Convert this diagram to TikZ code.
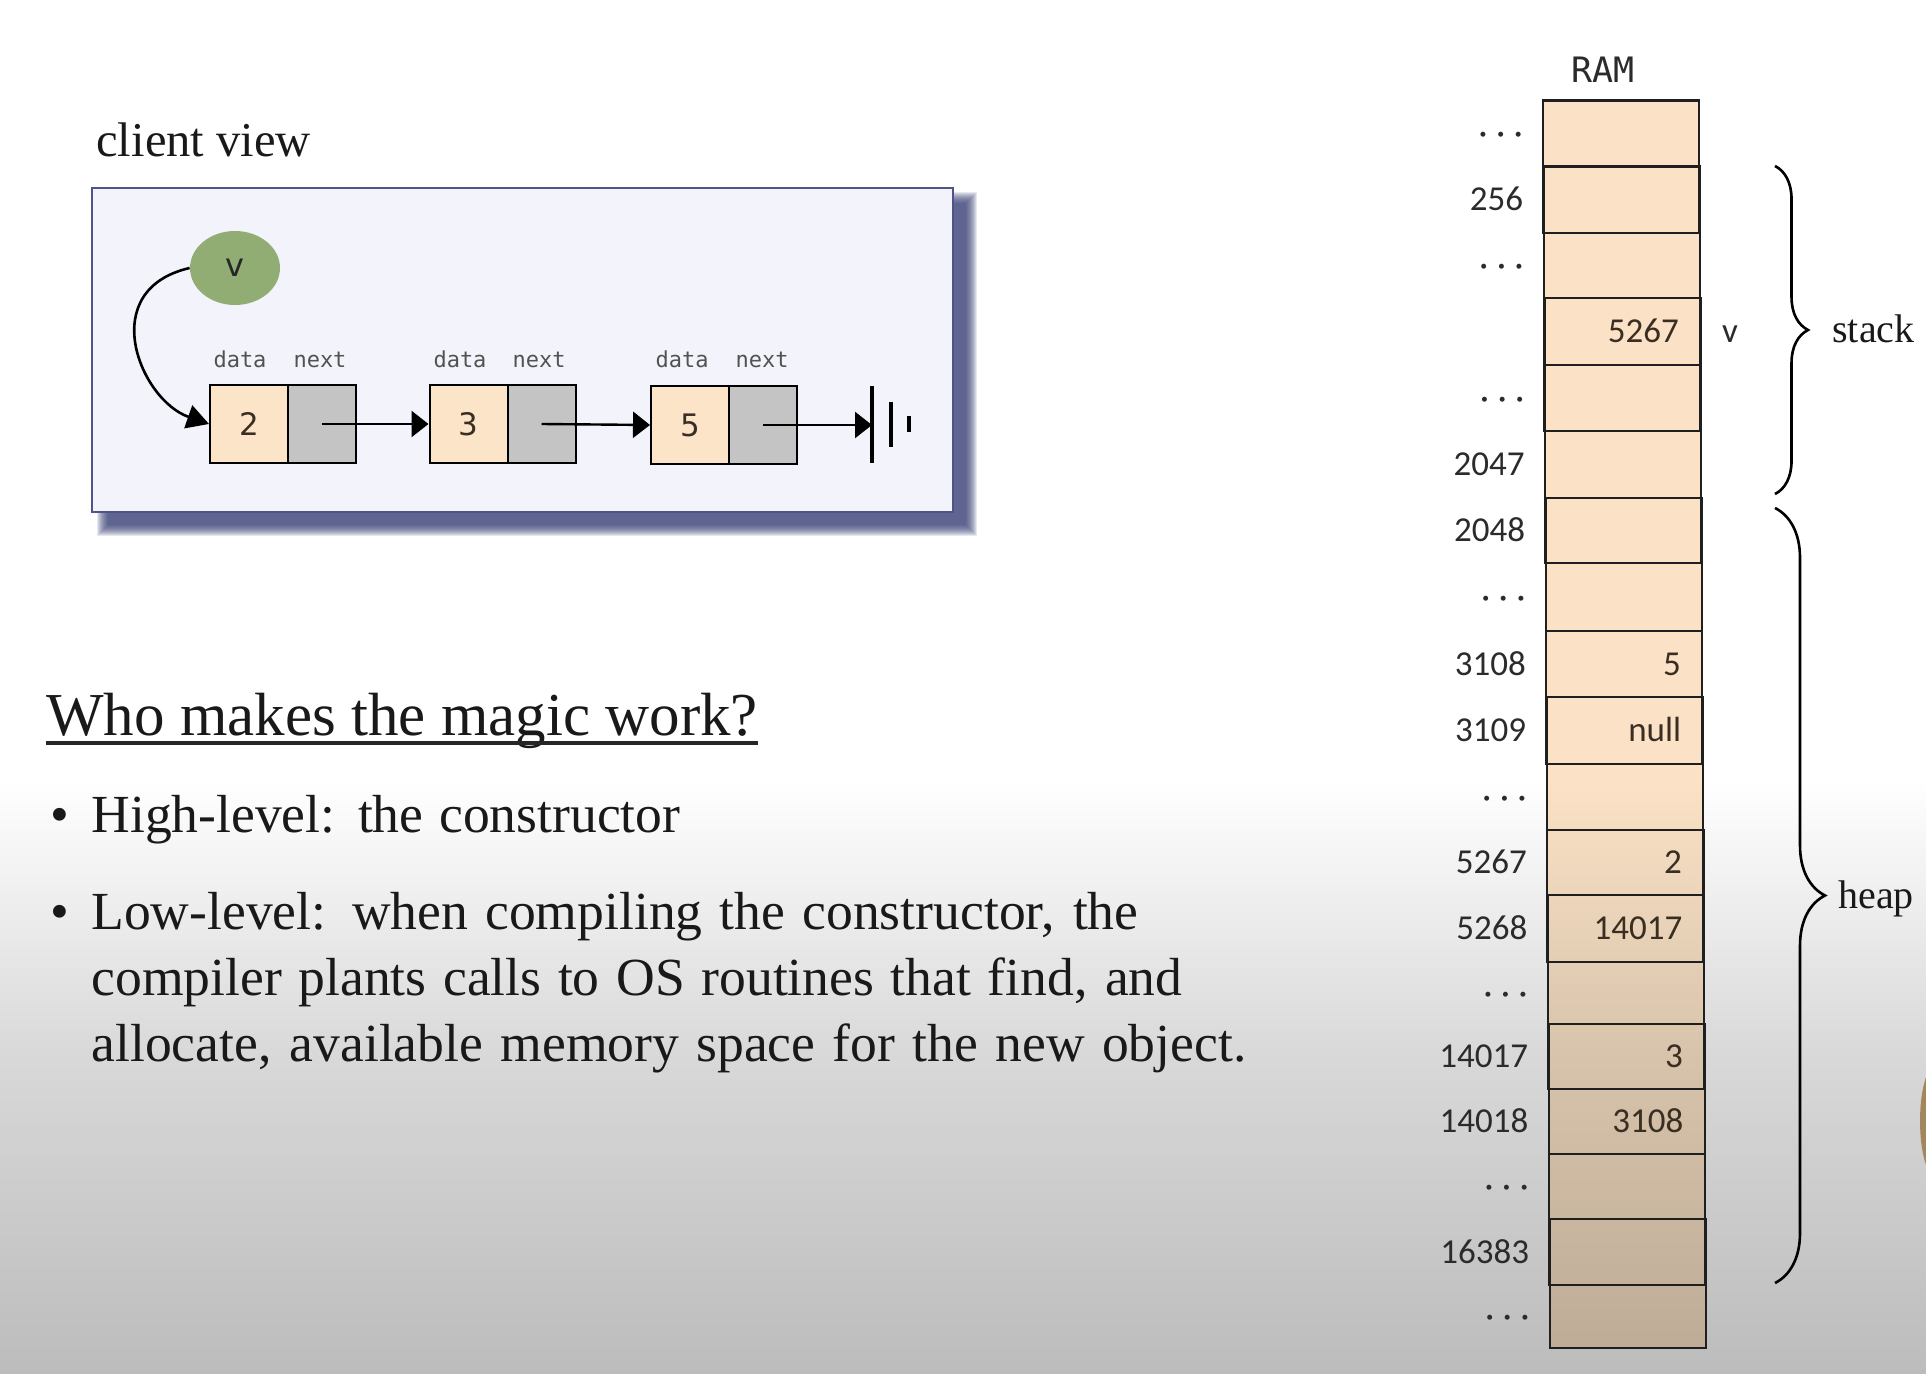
\documentclass[tikz,border=0pt]{standalone}
\usepackage{fontspec}
\setmainfont{Liberation Serif}
\newfontfamily\calib{Carlito}
\newfontfamily\dmono{DejaVu Sans Mono}
\newfontfamily\dsans{DejaVu Sans}
\usetikzlibrary{shapes.geometric,arrows.meta,decorations.pathreplacing,calc}
\definecolor{peach}{HTML}{FCE4C8}
\definecolor{nextgrey}{HTML}{C4C4C4}
\definecolor{panelfill}{HTML}{F3F3FC}
\definecolor{panelline}{HTML}{4E5488}
\definecolor{shadowcol}{HTML}{3A4075}
\definecolor{vgreen}{HTML}{91AD74}
\definecolor{bgmid}{HTML}{D9D9D9}
\definecolor{bgbot}{HTML}{BCBCBC}
\definecolor{rampeach}{HTML}{FBE2C6}
\definecolor{rammid}{HTML}{D8C4AC}
\definecolor{rambot}{HTML}{BFAC97}
\definecolor{inktext}{HTML}{2B2B2B}
\definecolor{valtext}{HTML}{3A2E22}
\definecolor{skin}{HTML}{A2865E}
\newcommand\rdots{·\kern4.4pt·\kern4.4pt·}
\newcommand\bulfont{\fontsize{26.8pt}{33pt}\selectfont}
\begin{document}
\begin{tikzpicture}[x=0.5pt,y=-0.5pt,
  datacell/.style={draw=black, line width=1pt, fill=peach, minimum width=39pt, minimum height=39pt, inner sep=0pt, font=\dsans\fontsize{15.5pt}{18pt}\selectfont, text=valtext},
  nextcell/.style={draw=black, line width=1pt, fill=nextgrey, minimum width=34pt, minimum height=39pt, inner sep=0pt},
  fieldlbl/.style={font=\dmono\fontsize{11pt}{13pt}\selectfont, text=black!68, inner sep=0pt, anchor=base},
  link/.style={line width=1.2pt, -{Triangle[length=8.5pt,width=13pt]}},
  ramcell/.style={draw=black!88, line width=1.2pt, minimum width=78pt, inner sep=0pt},
  addr/.style={font=\calib\fontsize{17.5pt}{20pt}\selectfont, text=inktext, inner sep=0pt, anchor=base east},
  val/.style={font=\calib\fontsize{17.5pt}{20pt}\selectfont, text=valtext, inner sep=0pt, anchor=base east},
  serif/.style={inner sep=0pt, anchor=base west, text=black!90},
  bracestyle/.style={line width=1.3pt, decorate},
]
% background
\useasboundingbox (0,0) rectangle (1926,1374);
\fill[white] (0,0) rectangle (1926,781);
\shade[top color=white, bottom color=bgmid] (0,780) rectangle (1926,1051);
\shade[top color=bgmid, bottom color=bgbot] (0,1050) rectangle (1926,1374);
\fill[skin] (1936,1121) ellipse [x radius=8pt, y radius=28pt];

% client view panel
\node[serif, font=\fontsize{24.3pt}{29pt}\selectfont] (cv) at (96,157) {client view};
\foreach \k in {0,...,11}
  \fill[shadowcol, opacity=0.12] (97+\k,192+\k) rectangle (977-\k,536-\k);
\node[draw=panelline, line width=1pt, fill=panelfill, minimum width=430.5pt, minimum height=162pt, inner sep=0pt] (panel) at (522.5,350) {};

\node[ellipse, fill=vgreen, minimum width=45pt, minimum height=37pt, inner sep=0pt, font=\dsans\fontsize{16pt}{18pt}\selectfont, text=black!85] (v) at (235,268) {v};

\node[datacell] (n1d) at (249,424) {2};
\node[nextcell] (n1n) at (322,424) {};
\node[datacell] (n2d) at (468.5,424) {3};
\node[nextcell] (n2n) at (541.5,424) {};
\node[datacell] (n3d) at (690,425) {5};
\node[nextcell] (n3n) at (763,425) {};

\node[fieldlbl] (f1d) at (240,368) {data};
\node[fieldlbl] (f1n) at (320,368) {next};
\node[fieldlbl] (f2d) at (460,368) {data};
\node[fieldlbl] (f2n) at (539,368) {next};
\node[fieldlbl] (f3d) at (682,368) {data};
\node[fieldlbl] (f3n) at (762,368) {next};

\draw[line width=1.3pt, -{Triangle[length=11pt,width=12pt]}] (v.west) .. controls (95,290) and (140,400) .. (n1d.west);
\draw[link] (n1n.center) -- (n2d.west);
\draw[link] (n2n.center) -- (n3d.west);
\coordinate (nullend) at (872,425);
\draw[link] (n3n.center) -- (nullend);
\draw[line width=2pt] (872,386) -- (872,463);
\draw[line width=2pt] (891,402) -- (891,447);
\draw[line width=2pt] (909,416) -- (909,432);

% text
\node[serif, font=\fontsize{30.5pt}{36pt}\selectfont] (title) at (46,735) {Who makes the magic work?};
\draw[line width=1.6pt, black!85] ([yshift=-4pt]title.base west) -- ([yshift=-4pt]title.base east);
\node[serif, font=\bulfont] (b1) at (50,832) {•};
\node[serif, font=\bulfont] (t1) at (91,832) {\makebox[294.5pt][s]{High-level: the constructor}};
\node[serif, font=\bulfont] (b2) at (50,929) {•};
\node[serif, font=\bulfont] (l1) at (91,929) {\makebox[523.5pt][s]{Low-level: when compiling the constructor, the}};
\node[serif, font=\bulfont] (l2) at (91,995) {\makebox[545.5pt][s]{compiler plants calls to OS routines that find, and}};
\node[serif, font=\bulfont] (l3) at (91,1061) {\makebox[577.5pt][s]{allocate, available memory space for the new object.}};

% RAM
\node[font=\dmono\fontsize{17.5pt}{20pt}\selectfont, inner sep=0pt, anchor=base, text=inktext] (ram) at (1603,83) {RAM};
\fill[rampeach] (1543,100.7) -- (1699,100.7) -- (1702.4,781) -- (1547.4,781) -- cycle;
\shade[top color=rampeach, bottom color=rammid] (1547.4,780) -- (1702.3,780) -- (1703.6,1051) -- (1549.1,1051) -- cycle;
\shade[top color=rammid, bottom color=rambot] (1549.1,1050) -- (1703.6,1050) -- (1705,1348) -- (1551,1348) -- cycle;
\foreach \i/\t/\b/\ad/\vl in {
  0/100.7/166.7/\rdots/{},
  1/166.7/233.3/256/{},
  2/233.3/298.3/\rdots/{},
  3/298.3/365/{}/5267,
  4/365/431/\rdots/{},
  5/431/497.7/2047/{},
  6/497.7/563/2048/{},
  7/563/631/\rdots/{},
  8/631/697/3108/5,
  9/697/764/3109/null,
  10/764/830/\rdots/{},
  11/830/895/5267/2,
  12/895/962/5268/14017,
  13/962/1024/\rdots/{},
  14/1024/1089/14017/3,
  15/1089/1154/14018/3108,
  16/1154/1219/\rdots/{},
  17/1219/1285/16383/{},
  18/1285/1348/\rdots/{}}{
  \pgfmathsetmacro\m{(\t+\b)/2}
  \pgfmathsetmacro\cx{1621+7*(\m-100.7)/1247.3}
  \pgfmathsetmacro\h{(\b-\t)*0.5}
  \node[ramcell, minimum height=\h pt] (c\i) at (\cx,\m) {};
  \node[addr] (a\i) at (\cx-98,\m+11) {\ad};
  \node[val] (v\i) at (\cx+57,\m+11) {\vl};
}
\node[font=\calib\fontsize{17.5pt}{20pt}\selectfont, inner sep=0pt, anchor=base, text=inktext] (vlab) at (1730,343) {v};

\coordinate (st) at (1775,166);
\coordinate (sb) at (1775,494);
\coordinate (ht) at (1775,508);
\coordinate (hb) at (1775,1283);
\draw[bracestyle, decoration={brace, amplitude=16.5pt}] (st) -- (sb);
\draw[bracestyle, decoration={brace, amplitude=25pt}] (ht) -- (hb);
\node[serif, font=\fontsize{20pt}{24pt}\selectfont] (stack) at (1832,343) {stack};
\node[serif, font=\fontsize{20pt}{24pt}\selectfont] (heap) at (1838,908) {heap};
\end{tikzpicture}
\end{document}
